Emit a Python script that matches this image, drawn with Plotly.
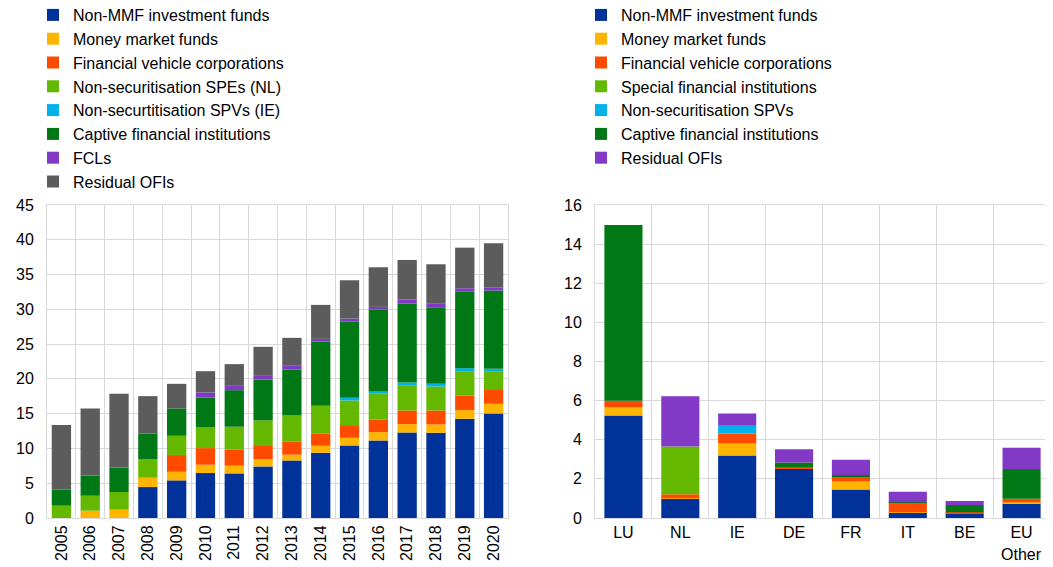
import plotly.graph_objects as go

years = [str(y) for y in range(2005, 2021)]
left_names = ["Non-MMF investment funds", "Money market funds", "Financial vehicle corporations",
              "Non-securitisation SPEs (NL)", "Non-securtitisation SPVs (IE)",
              "Captive financial institutions", "FCLs", "Residual OFIs"]
l_nonmmf = [0, 0, 0, 4.45, 5.41, 6.46, 6.41, 7.42, 8.28, 9.38, 10.44, 11.15, 12.3, 12.25, 14.27, 15.03]
l_mmf = [0, 1.05, 1.2, 1.34, 1.24, 1.2, 1.11, 1.05, 0.82, 1.01, 1.1, 1.2, 1.2, 1.2, 1.24, 1.39]
l_fvc = [0, 0, 0, 0, 2.4, 2.39, 2.29, 2.01, 1.91, 1.77, 1.82, 1.82, 1.96, 2.01, 2.11, 2.11]
l_spe = [1.77, 2.15, 2.53, 2.68, 2.77, 2.97, 3.31, 3.55, 3.73, 3.97, 3.54, 3.69, 3.64, 3.45, 3.49, 2.49]
l_spv = [0, 0, 0, 0, 0, 0, 0, 0, 0, 0, 0.38, 0.38, 0.38, 0.38, 0.43, 0.43]
l_captive = [2.35, 2.93, 3.55, 3.69, 3.93, 4.31, 5.26, 5.88, 6.61, 9.24, 10.96, 11.73, 11.35, 11.01, 11.01, 11.25]
l_fcl = [0, 0, 0, 0, 0, 0.72, 0.72, 0.63, 0.53, 0.38, 0.43, 0.38, 0.57, 0.58, 0.48, 0.47]
l_resid = [9.24, 9.62, 10.58, 5.36, 3.54, 3.06, 3.02, 4.07, 4.02, 4.89, 5.51, 5.7, 5.7, 5.6, 5.84, 6.32]
left_series = [l_nonmmf, l_mmf, l_fvc, l_spe, l_spv, l_captive, l_fcl, l_resid]
left_colors = ["#003299", "#FFB400", "#FF4B00", "#65B800", "#00B1EA", "#007816", "#8139C6", "#5C5C5C"]

countries = ["LU", "NL", "IE", "DE", "FR", "IT", "BE", "EU Other"]
country_labels = ["LU", "NL", "IE", "DE", "FR", "IT", "BE", "EU"]
right_names = ["Non-MMF investment funds", "Money market funds", "Financial vehicle corporations",
               "Special financial institutions", "Non-securitisation SPVs",
               "Captive financial institutions", "Residual OFIs"]
r_nonmmf = [5.24, 0.99, 3.2, 2.52, 1.46, 0.27, 0.22, 0.75]
r_mmf = [0.41, 0.02, 0.61, 0.03, 0.41, 0.02, 0.02, 0.05]
r_fvc = [0.34, 0.2, 0.51, 0.05, 0.24, 0.5, 0.06, 0.19]
r_sfi = [0, 2.45, 0, 0, 0, 0, 0, 0]
r_spv = [0, 0, 0.39, 0, 0, 0, 0, 0]
r_captive = [8.99, 0, 0, 0.24, 0.07, 0.02, 0.36, 1.51]
r_resid = [-0.08, 2.57, 0.63, 0.68, 0.8, 0.53, 0.21, 1.09]
right_series = [r_nonmmf, r_mmf, r_fvc, r_sfi, r_spv, r_captive, r_resid]
right_colors = ["#003299", "#FFB400", "#FF4B00", "#65B800", "#00B1EA", "#007816", "#8139C6"]

FONT = "Liberation Sans, Arial, sans-serif"
W, H = 1045, 559  # page body has an 8px margin
fig = go.Figure()
for name, vals, col in zip(left_names, left_series, left_colors):
    fig.add_trace(go.Bar(x=years, y=vals, name=name, marker=dict(color=col, line=dict(width=0)),
                         xaxis="x", yaxis="y", legend="legend"))
for name, vals, col in zip(right_names, right_series, right_colors):
    fig.add_trace(go.Bar(x=countries, y=vals, name=name, marker=dict(color=col, line=dict(width=0)),
                         xaxis="x2", yaxis="y2", legend="legend2"))

grid = "#D9D9D9"
ydom = [1 - 510 / H, 1 - 197 / H]
fig.update_layout(
    width=W, height=H,
    margin=dict(l=0, r=0, t=0, b=0, autoexpand=False),
    paper_bgcolor="white", plot_bgcolor="white",
    barmode="relative", bargap=0.33,
    font=dict(family=FONT, size=16, color="#000000"),
    xaxis=dict(domain=[39 / W, 500 / W], anchor="y", type="category", tickson="boundaries",
               showgrid=True, gridcolor=grid, ticks="", tickangle=-90, automargin=False,
               showline=True, linecolor=grid, mirror=True, tickfont=dict(size=16)),
    yaxis=dict(domain=ydom, anchor="x", range=[0, 45], dtick=5, showgrid=True, gridcolor=grid,
               showline=True, linecolor=grid, mirror=True, zeroline=False, ticks="",
               automargin=False, tickfont=dict(size=16), ticklabelstandoff=9),
    xaxis2=dict(domain=[587 / W, 1042 / W], anchor="y2", type="category", tickson="boundaries",
                showgrid=True, gridcolor=grid, ticks="", tickangle=0, automargin=False,
                tickmode="array", tickvals=countries, ticktext=country_labels,
                showline=True, linecolor=grid, mirror=True, tickfont=dict(size=16)),
    yaxis2=dict(domain=ydom, anchor="x2", range=[0, 16], dtick=2, showgrid=True, gridcolor=grid,
                showline=True, linecolor=grid, mirror=True, zeroline=False, ticks="",
                automargin=False, tickfont=dict(size=16), ticklabelstandoff=9),
    legend=dict(x=25 / W, y=1 + 10 / H, xanchor="left", yanchor="top", traceorder="normal",
                font=dict(size=16), bgcolor="rgba(0,0,0,0)"),
    legend2=dict(x=573 / W, y=1 + 10 / H, xanchor="left", yanchor="top", traceorder="normal",
                 font=dict(size=16), bgcolor="rgba(0,0,0,0)"),
    annotations=[dict(x=countries[-1], y=1 - 546 / H, xref="x2", yref="paper",
                      text="Other", showarrow=False, xanchor="center", yanchor="middle",
                      font=dict(size=16, family=FONT, color="#000000"))],
)
fig.write_html("out.html")
